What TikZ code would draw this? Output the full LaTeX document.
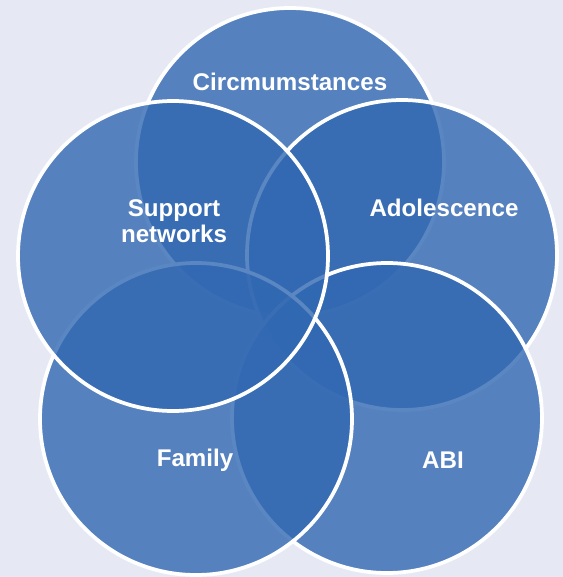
\documentclass[tikz,border=0pt]{standalone}
\usepackage{fontspec}
\setmainfont{Liberation Sans}
\usetikzlibrary{positioning}
\definecolor{bgpale}{HTML}{E6E9F4}
\definecolor{vennblue}{HTML}{3168B2}

\begin{document}
\begin{tikzpicture}[x=0.03cm,y=-0.03cm,
	venn/.style={draw=white,line width=3.2pt,fill=vennblue,fill opacity=0.8},
	lbl/.style={text=white,font=\fontsize{20.6}{22.2}\selectfont\bfseries,align=center,inner sep=0pt}]
		% background and size
		\fill[bgpale] (0,0) rectangle (563,577);
		\useasboundingbox (0,0) rectangle (563,577);
		% circles, back to front
		\filldraw[venn] (290,162) circle (154);
		\filldraw[venn] (402,255) circle (155);
		\filldraw[venn] (387,418) circle (155);
		\filldraw[venn] (196,419) circle (156);
		\filldraw[venn] (173,256) circle (155);
		% labels
		\node[lbl] (cs) at (290,82) {Circmumstances};
		\node[lbl] (sn) at (174,221) {Support\\networks};
		\node[lbl] (ad) at (444,208) {Adolescence};
		\node[lbl] (fa) at (195,460) {Family};
		\node[lbl] (abi) at (443,460) {ABI};
	\end{tikzpicture}
\end{document}
